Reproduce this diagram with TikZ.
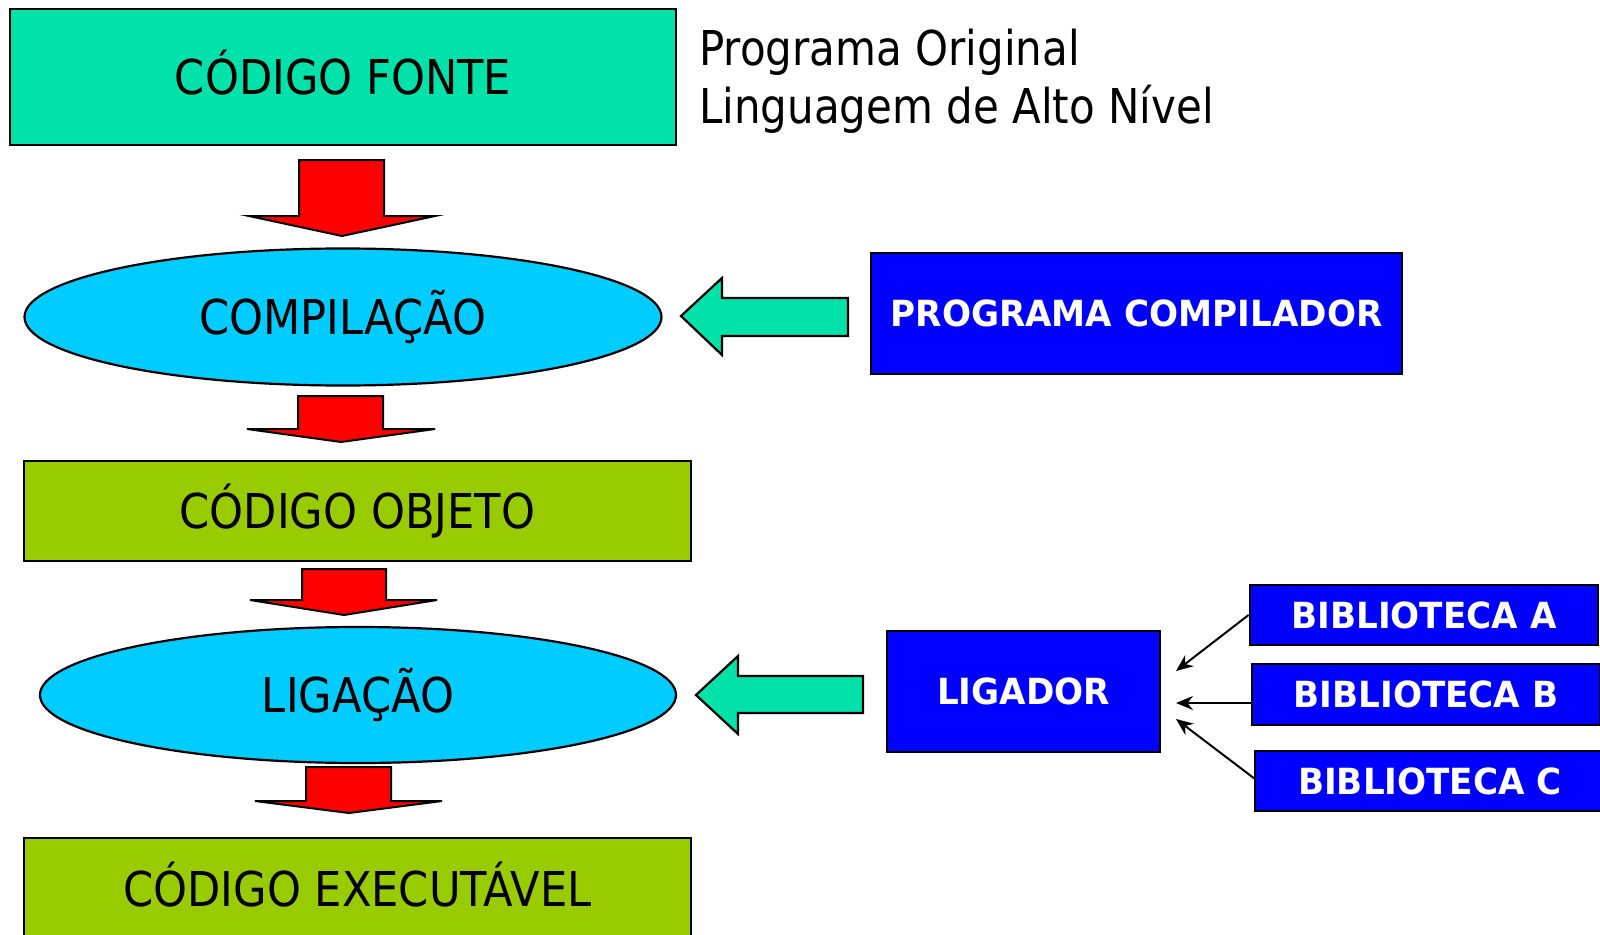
\documentclass[tikz,border=0pt]{standalone}
\usepackage{fontspec}
\setmainfont[FakeStretch=0.9]{DejaVu Sans}
\newfontfamily\boldfam[FakeStretch=0.95]{DejaVu Sans}
\newfontfamily\sidefam[FakeStretch=0.875]{DejaVu Sans}
\usetikzlibrary{shapes.geometric,arrows.meta}
\definecolor{teal}{RGB}{0,226,170}
\definecolor{sky}{RGB}{0,204,255}
\definecolor{olive}{RGB}{153,204,0}
\definecolor{pureblue}{RGB}{0,0,255}
\definecolor{pured}{RGB}{255,0,0}
\tikzset{
  regtext/.style={font=\fontsize{48}{56}\selectfont, text height=35pt, text depth=0pt, inner sep=0pt},
  boldtext/.style={font=\boldfam\bfseries\fontsize{36}{42}\selectfont, text=white, text height=26pt, text depth=0pt, inner sep=0pt},
  box/.style={draw=black, line width=2.8pt, rectangle},
  oval/.style={draw=black, line width=2.2pt, ellipse, fill=sky, regtext},
  redblk/.style={fill=pured, draw=black, line width=2pt, line join=miter},
  greenblk/.style={fill=teal, draw=black, line width=2.2pt, line join=miter},
  thin/.style={draw=black, line width=2pt, -{Stealth[length=17pt,width=14pt]}},
  side/.style={font=\sidefam\fontsize{48}{56}\selectfont, inner sep=0pt, anchor=base west}
}
\begin{document}
\begin{tikzpicture}[x=1pt,y=-1pt]
\useasboundingbox (0,0) rectangle (1600,934);
\clip (0,0) rectangle (1600,934);
% main flow nodes
\node[box, fill=teal, regtext, minimum width=666pt, minimum height=136pt] (fonte) at (343,77) {CÓDIGO FONTE};
\node[oval, minimum width=637pt, minimum height=137pt] (comp) at (343,317) {COMPILAÇÃO};
\node[box, fill=olive, regtext, minimum width=667pt, minimum height=100pt] (obj) at (357.5,511) {CÓDIGO OBJETO};
\node[oval, minimum width=636pt, minimum height=136pt] (lig) at (358,695) {LIGAÇÃO};
\node[box, fill=olive, minimum width=667pt, minimum height=110pt] (exec) at (357.5,893) {};
\node[regtext] (exectxt) at (357.5,889) {CÓDIGO EXECUTÁVEL};
% side text
\node[side] (prog1) at (699,66) {Programa Original};
\node[side] (prog2) at (699,123) {Linguagem de Alto Nível};
% right nodes
\node[box, fill=pureblue, boldtext, minimum width=531pt, minimum height=121pt] (pc) at (1136.5,313.5) {PROGRAMA COMPILADOR};
\node[box, fill=pureblue, boldtext, minimum width=273pt, minimum height=121pt] (ligador) at (1023.5,691.5) {LIGADOR};
\node[box, fill=pureblue, boldtext, minimum width=348pt, minimum height=60pt] (libA) at (1424,615) {BIBLIOTECA A};
\node[box, fill=pureblue, boldtext, minimum width=348pt, minimum height=61pt] (libB) at (1426,694.5) {BIBLIOTECA B};
\node[box, fill=pureblue, boldtext, minimum width=350pt, minimum height=60pt] (libC) at (1430,781) {BIBLIOTECA C};
% red block arrows
\draw[redblk] (299,160) -- (384,160) -- (384,216) -- (435,216) -- (342,236) -- (249,216) -- (299,216) -- cycle;
\draw[redblk] (298,396) -- (383,396) -- (383,429) -- (435,429) -- (341,442) -- (247,429) -- (298,429) -- cycle;
\draw[redblk] (302,569) -- (386,569) -- (386,600) -- (437,600) -- (344,615) -- (250,600) -- (302,600) -- cycle;
\draw[redblk] (306,767) -- (391,767) -- (391,801) -- (442,801) -- (349,813) -- (255,801) -- (306,801) -- cycle;
% green block arrows
\draw[greenblk] (681,316) -- (722,278) -- (722,298) -- (848,298) -- (848,336) -- (722,336) -- (722,355) -- cycle;
\draw[greenblk] (696,695) -- (738,656) -- (738,676) -- (863,676) -- (863,713) -- (738,713) -- (738,734) -- cycle;
% thin arrows
\coordinate (ea) at (1176,671);
\coordinate (eb) at (1176,703);
\coordinate (ec) at (1176,719);
\coordinate (sa) at (libA.west);
\coordinate (sb) at (1252,703);
\coordinate (sc) at (1255,779);
\draw[thin] (sa) -- (ea);
\draw[thin] (sb) -- (eb);
\draw[thin] (sc) -- (ec);
\end{tikzpicture}
\end{document}
